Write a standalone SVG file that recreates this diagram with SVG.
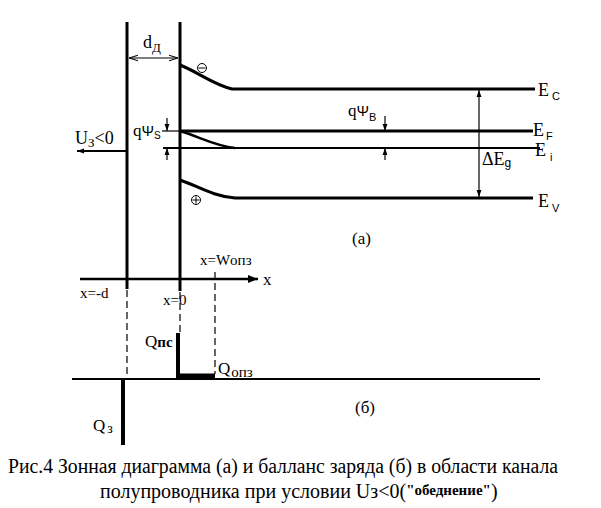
<svg xmlns="http://www.w3.org/2000/svg" width="601" height="508" viewBox="0 0 601 508">
<defs>
<style>
.t{font-family:"Liberation Serif","Times New Roman",serif;fill:#000}
.s{font-family:"Liberation Sans",Arial,sans-serif;fill:#000}
.thick{stroke:#000;stroke-width:3;fill:none}
.thin{stroke:#000;stroke-width:1.2;fill:none}
.dash{stroke:#000;stroke-width:1.2;fill:none;stroke-dasharray:7,4}
</style>
<marker id="ah" viewBox="0 0 10 10" refX="10" refY="5" markerWidth="7" markerHeight="7" orient="auto-start-reverse" markerUnits="userSpaceOnUse">
<path d="M0,1.5 L10,5 L0,8.5 z" fill="#000"/>
</marker>
<marker id="oa" viewBox="0 0 10 10" refX="10" refY="5" markerWidth="9" markerHeight="9" orient="auto-start-reverse" markerUnits="userSpaceOnUse">
<path d="M0,2 L10,5 L0,8" fill="none" stroke="#000" stroke-width="1.2"/>
</marker>
<marker id="big" viewBox="0 0 10 10" refX="10" refY="5" markerWidth="14" markerHeight="10" orient="auto" markerUnits="userSpaceOnUse">
<path d="M0,1 L10,5 L0,9 z" fill="#000"/>
</marker>
</defs>
<rect width="601" height="508" fill="#fff"/>

<g id="gate">
<line x1="127" y1="22" x2="127" y2="289" class="thick"/>
<line x1="180" y1="22" x2="180" y2="291" class="thick"/>
</g>

<g id="bands">
<path d="M180,65 C198,72 212,84 232,89 L535,89" class="thick" stroke-width="3.5"/>
<line x1="180" y1="131" x2="533" y2="131" class="thick"/>
<path d="M180,131 C200,137 215,146 235,148" fill="none" stroke="#000" stroke-width="2.5"/>
<line x1="163" y1="148" x2="540" y2="148" stroke="#000" stroke-width="1.8"/>
<path d="M180,180 C198,186 212,196 235,198 L533,198" class="thick"/>
<circle cx="202" cy="68" r="4.5" fill="none" stroke="#000" stroke-width="1"/>
<line x1="198.5" y1="68" x2="205.5" y2="68" stroke="#000" stroke-width="1"/>
<circle cx="196" cy="200" r="4.5" fill="none" stroke="#000" stroke-width="1"/>
<line x1="192.5" y1="200" x2="199.5" y2="200" stroke="#000" stroke-width="1"/>
<line x1="196" y1="196.5" x2="196" y2="203.5" stroke="#000" stroke-width="1"/>
</g>

<g id="labels-a">
<text class="t" x="143" y="48" font-size="18">d<tspan font-size="13" dy="4">Д</tspan></text>
<text class="t" x="75" y="144" font-size="18">U<tspan font-size="13" dy="3">З</tspan><tspan dy="-3">&lt;0</tspan></text>
<text class="t" x="133" y="136" font-size="17">q<tspan class="s" font-size="15">Ψ</tspan><tspan class="s" font-size="10" dy="3">S</tspan></text>
<text class="t" x="348" y="116" font-size="17">q<tspan class="s" font-size="15">Ψ</tspan><tspan class="s" font-size="11" dy="5">B</tspan></text>
<text class="t" x="538" y="96" font-size="18">E<tspan class="s" font-size="11" dx="3" dy="4">C</tspan></text>
<text class="t" x="533" y="136" font-size="18">E<tspan class="s" font-size="11" dx="2" dy="4">F</tspan></text>
<text class="t" x="535" y="156" font-size="18">E<tspan class="s" font-size="11" dx="4" dy="5">i</tspan></text>
<text class="t" x="482" y="165" font-size="18">ΔE<tspan class="s" font-size="12" dy="2">g</tspan></text>
<text class="t" x="538" y="207" font-size="18">E<tspan class="s" font-size="11" dx="3" dy="5">V</tspan></text>
<text class="t" x="352" y="244" font-size="17">(a)</text>
</g>

<g id="axis">
<line x1="80" y1="279" x2="258" y2="279" stroke="#000" stroke-width="2.5" marker-end="url(#big)"/>
<text class="t" x="263" y="285" font-size="17">x</text>
<text class="t" x="200" y="265" font-size="15">x=Wопз</text>
<text class="t" x="80" y="298" font-size="15">x=-d</text>
<text class="t" x="163" y="305" font-size="15">x=0</text>
</g>

<g id="charge">
<line x1="72" y1="379" x2="540" y2="379" stroke="#000" stroke-width="1.8"/>
<line x1="123" y1="379" x2="123" y2="445" stroke="#000" stroke-width="4"/>
<line x1="178" y1="333" x2="178" y2="379" stroke="#000" stroke-width="4"/>
<line x1="176" y1="376" x2="215" y2="376" stroke="#000" stroke-width="5"/>
<text class="t" x="145" y="347" font-size="17">Q<tspan font-weight="bold" font-size="15">пс</tspan></text>
<text class="t" x="218" y="374" font-size="17">Q<tspan font-size="15" dx="1" dy="3">опз</tspan></text>
<text class="t" x="93" y="431" font-size="17">Q<tspan font-size="14" dx="2" dy="2">з</tspan></text>
<text class="t" x="355" y="413" font-size="17">(б)</text>
</g>

<g id="connectors">
<line x1="129" y1="58" x2="178" y2="58" class="thin" marker-start="url(#oa)" marker-end="url(#oa)"/>
<line x1="126" y1="151" x2="77" y2="151" stroke="#000" stroke-width="2" marker-end="url(#ah)"/>
<line x1="167" y1="118" x2="167" y2="131" class="thin" marker-end="url(#ah)"/>
<line x1="167" y1="160" x2="167" y2="148" class="thin" marker-end="url(#ah)"/>
<line x1="162" y1="131" x2="180" y2="131" class="thin"/>
<line x1="385" y1="116" x2="385" y2="131" class="thin" marker-end="url(#ah)"/>
<line x1="385" y1="160" x2="385" y2="148" class="thin" marker-end="url(#ah)"/>
<line x1="479" y1="90" x2="479" y2="197" class="thin" marker-start="url(#ah)" marker-end="url(#ah)"/>
<line x1="127" y1="290" x2="127" y2="379" class="dash"/>
<line x1="180" y1="292" x2="180" y2="333" class="dash"/>
<line x1="215" y1="272" x2="215" y2="374" class="dash"/>
</g>

<g id="caption">
<text class="t" x="8" y="473" font-size="20" textLength="550" lengthAdjust="spacingAndGlyphs">Рис.4 Зонная диаграмма (а) и балланс заряда (б) в области канала</text>
<text class="t" x="100" y="498" font-size="20">полупроводника при условии Uз&lt;0(<tspan font-size="15" font-weight="bold" dy="-3">"обеднение"</tspan><tspan dy="3" font-size="20">)</tspan></text>
</g>
</svg>
